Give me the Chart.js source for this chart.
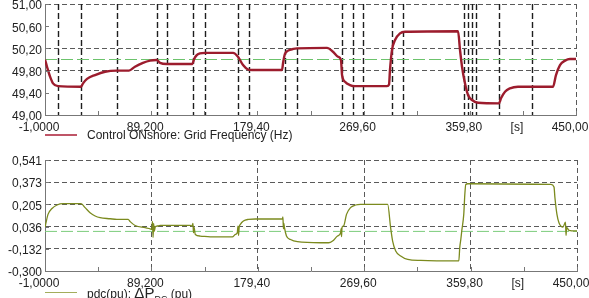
<!DOCTYPE html>
<html>
<head>
<meta charset="utf-8">
<script src="https://cdn.jsdelivr.net/npm/chart.js@4.4.1/dist/chart.umd.min.js"></script>
<style>
  body { margin: 0; background: #fff; width: 589px; height: 298px; overflow: hidden; position: relative;
         font-family: "Liberation Sans", Arial, sans-serif; }
  canvas { position: absolute; left: 0; }
  .legend { position: absolute; left: 0; width: 589px; height: 14px; font-size: 12px; line-height: 14px; color: #222; white-space: nowrap; }
  .legend .swatch { position: absolute; left: 45px; top: 6px; width: 32px; height: 0; border-top: 2px solid; }
  .legend .txt { position: absolute; left: 87px; top: 0; }
  .legend .dp { font-size: 15px; }
  .legend sub { font-size: 9px; }
</style>
</head>
<body>
<canvas id="freqChart" width="589" height="148" style="top:0"></canvas>
<canvas id="pdcChart" width="589" height="150" style="top:148px"></canvas>
<div class="legend" style="top:128px"><span class="swatch" style="border-color:#bf5567"></span><span class="txt">Control ONshore: Grid Frequency (Hz)</span></div>
<div class="legend" style="top:286px"><span class="swatch" style="border-color:#a3ad5c;border-top-width:1px"></span><span class="txt">pdc(pu): <span class="dp">ΔP<sub>DC</sub></span> (pu)</span></div>
<script>
// x axis (time in s)
const xTicks = [-1, 44.1, 89.2, 134.3, 179.4, 224.5, 269.6, 314.7, 359.8, 404.9, 450];
const xTickLabels = ['-1,0000', '', '89,200', '', '179,40', '', '269,60', '', '359,80', '[s]', '450,00'];

// top plot: grid frequency
const freqTicks = [49.0, 49.4, 49.8, 50.2, 50.6, 51.0];
const freqTickLabels = ['49,00', '49,40', '49,80', '50,20', '50,60', '51,00'];
const freqNominal = 50.0;
const freqTime = [-1, 0.7, 3.3, 5.8, 10.0, 29.6, 31.3, 34.7, 41.5, 50.0, 59.9, 70.3, 75.4, 82.2, 88.2, 93.9,
    96.7, 102.4, 124.2, 125.5, 127.5, 130.6, 134.9, 158.7, 162.9, 167.2, 171.4, 174.8, 200.3, 201.3, 202.8,
    205.5, 210.0, 213.0, 238.5, 243.6, 247.9, 250.4, 251.3, 253.8, 258.0, 262.3, 289.5, 291.2, 292.0, 293.7,
    296.3, 300.5, 304.8, 349.8, 351.5, 353.2, 355.7, 358.3, 361.7, 366.8, 384.6, 386.3, 389.7, 393.9, 400.7,
    430.5, 433.0, 436.4, 440.7, 444.9, 450];
const freqValue = [50.00, 49.87, 49.69, 49.57, 49.52, 49.51, 49.57, 49.65, 49.72, 49.78, 49.80, 49.80, 49.87,
    49.94, 49.98, 49.99, 49.94, 49.92, 49.92, 50.00, 50.07, 50.11, 50.12, 50.12, 50.05, 49.90, 49.82, 49.81,
    49.81, 49.95, 50.10, 50.16, 50.19, 50.20, 50.21, 50.14, 50.05, 49.99, 49.72, 49.60, 49.54, 49.52, 49.52,
    49.55, 49.81, 50.17, 50.35, 50.47, 50.50, 50.51, 50.17, 49.87, 49.57, 49.36, 49.27, 49.22, 49.21, 49.30,
    49.42, 49.48, 49.51, 49.51, 49.72, 49.90, 49.98, 50.01, 50.01];

// switching events marked in the top plot
const eventTimes = [10.3, 29.6, 59.9, 93.9, 102.4, 125.0, 134.9, 163.2, 172.5, 202.8, 212.8, 251.0, 260.8,
    269.3, 293.4, 303.3, 354.9, 358.5, 361.4, 365.1, 384.8, 412.9];

// bottom plot: pdc
const pdcTicks = [-0.300, -0.132, 0.036, 0.205, 0.373, 0.541];
const pdcTickLabels = ['-0,300', '-0,132', '0,036', '0,205', '0,373', '0,541'];
const pdcZero = 0;
const pdcTime = [-1, -0.15, 1.55, 4.95, 9.2, 14.3, 29.6, 33.0, 37.2, 41.5, 45.7, 54.2, 59.9, 69.5, 71.2, 75.4,
    83.9, 88.2, 89.6, 90.1, 90.6, 91.1, 91.6, 92.5, 94.1, 96.7, 122.2, 123.5, 124.4, 124.9, 125.4, 126.4, 130.6,
    139.1, 157.8, 160.4, 162.0, 162.6, 163.1, 163.6, 164.6, 167.2, 171.4, 177.4, 200.3, 200.7, 201.1, 201.5,
    202.0, 203.7, 207.1, 213.0, 232.6, 239.4, 242.8, 247.0, 249.6, 250.0, 250.4, 250.8, 252.1, 254.6, 258.0,
    262.3, 266.5, 289.5, 292.0, 293.7, 296.3, 300.5, 306.5, 317.5, 349.8, 350.6, 351.5, 352.3, 354.0, 354.9,
    355.7, 357.4, 427.9, 430.5, 431.3, 433.0, 434.7, 438.1, 440.2, 440.7, 441.2, 443.2, 450];
const pdcValue = [0.028, 0.066, 0.129, 0.174, 0.200, 0.210, 0.210, 0.180, 0.142, 0.117, 0.104, 0.096, 0.091,
    0.091, 0.074, 0.045, 0.028, 0.020, 0.015, 0.075, -0.045, 0.060, 0.000, 0.035, 0.041, 0.045, 0.045, 0.040,
    0.060, -0.010, 0.030, -0.023, -0.035, -0.042, -0.042, -0.023, -0.010, 0.040, -0.030, 0.030, 0.053, 0.079,
    0.091, 0.094, 0.094, 0.110, 0.020, 0.060, 0.028, -0.035, -0.061, -0.078, -0.086, -0.086, -0.073, -0.035,
    -0.010, 0.020, -0.040, 0.030, 0.041, 0.129, 0.180, 0.200, 0.205, 0.205, 0.028, -0.073, -0.148, -0.186,
    -0.212, -0.220, -0.224, -0.123, -0.061, 0.003, 0.129, 0.280, 0.356, 0.361, 0.356, 0.336, 0.255, 0.129,
    0.066, 0.033, 0.070, -0.030, 0.030, 0.008, 0.003];

const axisFont = { family: '"Liberation Sans", Arial, sans-serif', size: 12 };
const gridColor = '#5a5a5a';
const hidden = 'rgba(0,0,0,0)';

// small tick marks pointing into the plot
const innerTicks = {
    id: 'innerTicks',
    afterDraw(chart) {
        const { ctx, chartArea: a, scales: { x, y } } = chart;
        ctx.save();
        ctx.strokeStyle = '#777';
        ctx.lineWidth = 1;
        ctx.beginPath();
        xTicks.forEach(v => {
            const px = Math.round(x.getPixelForValue(v)) + 0.5;
            ctx.moveTo(px, a.bottom);
            ctx.lineTo(px, a.bottom - 4);
        });
        y.ticks.forEach(t => {
            const py = Math.round(y.getPixelForValue(t.value)) + 0.5;
            ctx.moveTo(a.left, py);
            ctx.lineTo(a.left + 4, py);
        });
        ctx.stroke();
        ctx.restore();
    }
};

// dashed vertical markers at switching events
const eventLines = {
    id: 'eventLines',
    beforeDatasetsDraw(chart) {
        const { ctx, chartArea: a, scales: { x } } = chart;
        ctx.save();
        ctx.strokeStyle = '#1e1e1e';
        ctx.lineWidth = 1.4;
        ctx.setLineDash([6, 3]);
        eventTimes.forEach(t => {
            const px = Math.round(x.getPixelForValue(t)) + 0.5;
            ctx.beginPath();
            ctx.moveTo(px, a.top);
            ctx.lineTo(px, a.bottom);
            ctx.stroke();
        });
        ctx.restore();
    }
};

function refLine(value, color) {
    return {
        data: [{ x: -1, y: value }, { x: 450, y: value }],
        borderColor: color,
        borderWidth: 1,
        borderDash: [12, 4],
        pointRadius: 0
    };
}

function buildChart(id, cfg) {
    return new Chart(document.getElementById(id), {
        type: 'line',
        data: { datasets: cfg.datasets },
        options: {
            responsive: false,
            animation: false,
            devicePixelRatio: 1,
            layout: { padding: cfg.padding },
            plugins: { legend: { display: false }, tooltip: { enabled: false } },
            scales: {
                x: {
                    type: 'linear',
                    min: -1,
                    max: 450,
                    afterBuildTicks: s => { s.ticks = xTicks.map(v => ({ value: v })); },
                    afterFit: s => { s.height = cfg.xHeight; s.paddingLeft = 0; s.paddingRight = 0; },
                    ticks: {
                        autoSkip: false, maxRotation: 0, padding: 5, labelOffset: -6,
                        color: '#222', font: axisFont,
                        callback: (v, i) => xTickLabels[i]
                    },
                    grid: { drawTicks: false, lineWidth: 1, color: c => cfg.xGrid(c.index) ? gridColor : hidden },
                    border: { color: '#777', width: 1, dash: [5, 3] }
                },
                y: {
                    type: 'linear',
                    min: cfg.yTicks[0],
                    max: cfg.yTicks[cfg.yTicks.length - 1],
                    afterBuildTicks: s => { s.ticks = cfg.yTicks.map(v => ({ value: v })); },
                    afterFit: s => { s.width = 45; s.paddingTop = 0; s.paddingBottom = 0; },
                    ticks: {
                        autoSkip: false, padding: 3, labelOffset: 2, color: '#222', font: axisFont,
                        callback: (v, i) => cfg.yTickLabels[i]
                    },
                    grid: { drawTicks: false, lineWidth: 1, color: c => cfg.yGrid(c.index) ? gridColor : hidden },
                    border: { color: '#777', width: 1, dash: [5, 3] }
                }
            }
        },
        plugins: [innerTicks].concat(cfg.plugins || [])
    });
}

// Grid frequency chart
buildChart('freqChart', {
    padding: { top: 4, right: 13, left: 0, bottom: 0 },
    xHeight: 33,
    yTicks: freqTicks,
    yTickLabels: freqTickLabels,
    xGrid: i => i === xTicks.length - 1,
    yGrid: i => i === 2 || i === 3 || i === 5,
    plugins: [eventLines],
    datasets: [
        {
            data: freqTime.map((t, i) => ({ x: t, y: freqValue[i] })),
            borderColor: '#9c1c2d',
            borderWidth: 2.4,
            pointRadius: 0,
            cubicInterpolationMode: 'monotone'
        },
        refLine(freqNominal, '#6cc36c')
    ]
});

// pdc chart
buildChart('pdcChart', {
    padding: { top: 12, right: 12, left: 0, bottom: 0 },
    xHeight: 27,
    yTicks: pdcTicks,
    yTickLabels: pdcTickLabels,
    xGrid: i => i > 0 && i % 2 === 0,
    yGrid: i => i > 0,
    datasets: [
        {
            data: pdcTime.map((t, i) => ({ x: t, y: pdcValue[i] })),
            borderColor: '#7b8a1e',
            borderWidth: 1.3,
            pointRadius: 0,
            cubicInterpolationMode: 'monotone'
        },
        refLine(pdcZero, '#7ccc7c')
    ]
});
</script>
</body>
</html>
